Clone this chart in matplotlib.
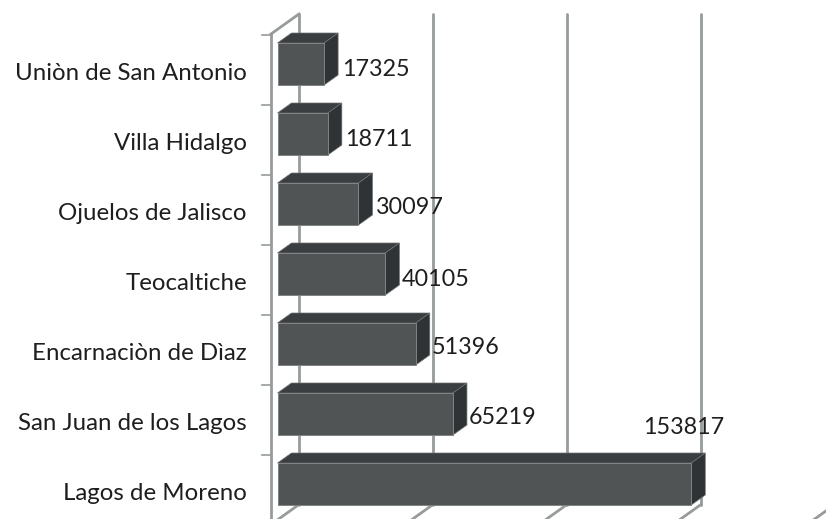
from matplotlib import pyplot as plt
from matplotlib.patches import Polygon

# Datos
municipios = ["Uniòn de San Antonio", "Villa Hidalgo", "Ojuelos de Jalisco", "Teocaltiche",
              "Encarnaciòn de Dìaz", "San Juan de los Lagos", "Lagos de Moreno"]
valores = [17325, 18711, 30097, 40105, 51396, 65219, 153817]
marcas_x = [0, 50000, 100000, 150000, 200000]

# Ajustes de la etiqueta de cada barra, en pixeles desde la esquina de la barra
etiqueta_dx = [18, 17, 17, 16, 16, 16, -48]
etiqueta_dy = [3, 4, 2, 3, 2, 2, -58]

plt.rcParams['font.family'] = ['Lato', 'DejaVu Sans']

ANCHO, ALTO = 826, 519
ESCALA = 2.69e-3      # pixeles por unidad
FONDO = 2.68/2.69     # el fondo queda un poco mas corto que el frente
X0 = 277.5            # pixel del valor 0 en la cara frontal
Y0, PASO = 64, 70     # pixel del centro de la primera barra y separacion

fig = plt.figure(figsize=(ANCHO/100, ALTO/100), dpi=100)
ax = fig.add_axes([0, 0, 1, 1])
ax.set_xlim(-X0/ESCALA, (ANCHO-X0)/ESCALA)
ax.set_ylim((ALTO-Y0)/PASO, -Y0/PASO)
ax.axis('off')

# pixeles a unidades de datos
dx = lambda p: p/ESCALA
dy = lambda p: p/PASO

GRIS = '#979b9b'
FRENTE, ARRIBA, LADO = '#505455', '#3a3e40', '#2f3335'
n = len(valores)

# Rejilla del fondo y del piso
base = n - 1 + dy(20.5)
tope = dy(14 - Y0)
for m in marcas_x:
  xb = m*FONDO + dx(21.5)
  ax.plot([xb, xb], [tope, base], color=GRIS, lw=2, zorder=1, solid_capstyle='round')
  ax.plot([xb, xb - dx(28)], [base, base + dy(20)], color=GRIS, lw=2, zorder=1)

# Pared izquierda y marcas de categoria
xf = dx(-6.5)
ax.plot([xf, xf], [dy(34 - Y0), dy(ALTO - Y0 + 5)], color=GRIS, lw=2, zorder=1)
ax.plot([xf, xf + dx(28)], [dy(34 - Y0), tope], color=GRIS, lw=2, zorder=1)
for i in range(n):
  yt = i - dy(29)
  ax.plot([xf - dx(9), xf], [yt, yt], color=GRIS, lw=1.2, zorder=1)

# Barras
alto_barra = 42/PASO
for i, v in enumerate(valores):
  arriba = i - alto_barra/2
  abajo = i + alto_barra/2
  ax.add_patch(Polygon([(0, arriba), (dx(14), arriba - dy(10)), (v + dx(14), arriba - dy(10)), (v, arriba)],
                       facecolor=ARRIBA, edgecolor='#6e7171', linewidth=0.5, zorder=3))
  ax.add_patch(Polygon([(v, arriba), (v + dx(14), arriba - dy(10)), (v + dx(14), abajo - dy(10)), (v, abajo)],
                       facecolor=LADO, edgecolor='#6e7171', linewidth=0.5, zorder=3))
  ax.barh(i, v, height=alto_barra, color=FRENTE, edgecolor='#7f8383', linewidth=0.7, zorder=3)
  ax.annotate(str(v), (v, arriba), xytext=(etiqueta_dx[i], -etiqueta_dy[i] - 23), textcoords='offset pixels',
              fontsize=16.8, color='#1e1e1e', ha='left', va='center', zorder=4)
  ax.annotate(municipios[i], (0, i), xytext=(-30.5, -9), textcoords='offset pixels',
              fontsize=17.3, color='#1e1e1e', ha='right', va='center', zorder=4)

plt.savefig('out.png', dpi=100)
